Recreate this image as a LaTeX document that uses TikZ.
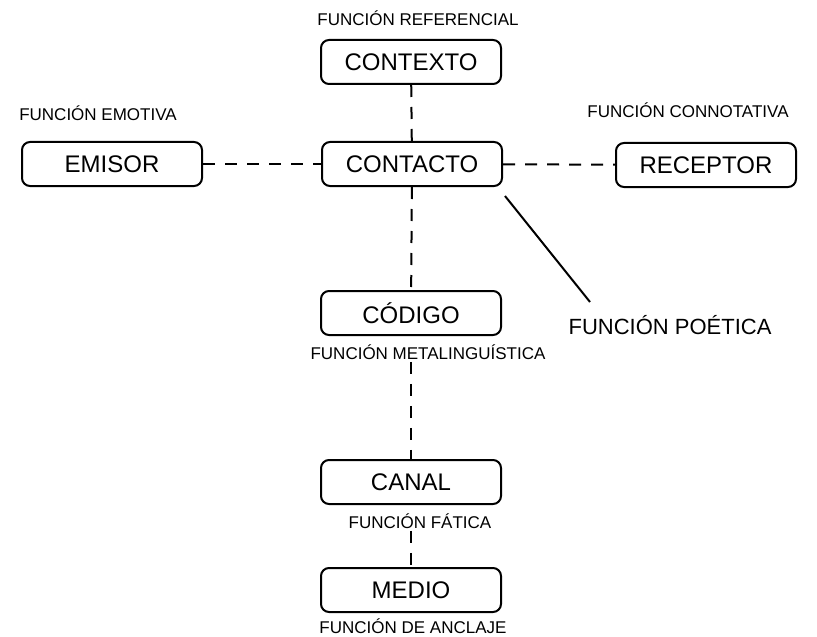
\documentclass[tikz,border=0pt]{standalone}
\usepackage{fontspec}
\setmainfont{Liberation Sans}
\usetikzlibrary{positioning}
\tikzset{
    caja/.style={
        rectangle,
        rounded corners=4pt,
        draw, line width=1pt,
        minimum width=90pt,
        minimum height=22pt,
        inner sep=0pt,
        font={\fontsize{12pt}{14}\selectfont}
    },
    funcion/.style={
        inner sep=1pt,
        font={\fontsize{8.5pt}{10}\selectfont}
    },
    enlace/.style={draw, line width=1pt, dash pattern=on 6pt off 5pt},
}
\begin{document}
\begin{tikzpicture}
[
    x=0.5pt, y=-0.5pt,
    grande/.style={font={\fontsize{11pt}{13}\selectfont}},
]
\useasboundingbox (0,0) rectangle (817,636);
% cajas
\node[caja] (contexto) at (411,62) {CONTEXTO};
\node[caja] (emisor) at (112,164) {EMISOR};
\node[caja] (contacto) at (412,164) {CONTACTO};
\node[caja] (receptor) at (706,165) {RECEPTOR};
\node[caja] (codigo) at (411,313) {CÓDIGO};
\node[caja] (canal) at (411,482) {CANAL};
\node[caja] (medio) at (411,590) {MEDIO};
% funciones
\node[funcion] (referencial) at (418,18) {FUNCIÓN REFERENCIAL};
\node[funcion] (emotiva) at (98,113) {FUNCIÓN EMOTIVA};
\node[funcion] (connotativa) at (688,110) {FUNCIÓN CONNOTATIVA};
\node[funcion, grande] (poetica) at (670,325) {FUNCIÓN POÉTICA};
\node[funcion] (metalinguistica) at (428,352) {FUNCIÓN METALINGUÍSTICA};
\node[funcion] (fatica) at (420,521) {FUNCIÓN FÁTICA};
\node[funcion] (anclaje) at (413,626) {FUNCIÓN DE ANCLAJE};
% enlaces
\path[enlace] (contexto) -- (contacto);
\path[enlace] (emisor) -- (contacto);
\path[enlace] (contacto) -- (receptor);
\path[enlace] (contacto) -- (codigo);
\path[enlace] (metalinguistica.south -| canal.north) -- (canal.north);
\path[enlace] (fatica.south -| medio.north) -- (medio.north);
\coordinate (poetica-a) at (505,196);
\coordinate (poetica-b) at (590,302);
\draw[line width=1pt] (poetica-a) -- (poetica-b);
\end{tikzpicture}
\end{document}
